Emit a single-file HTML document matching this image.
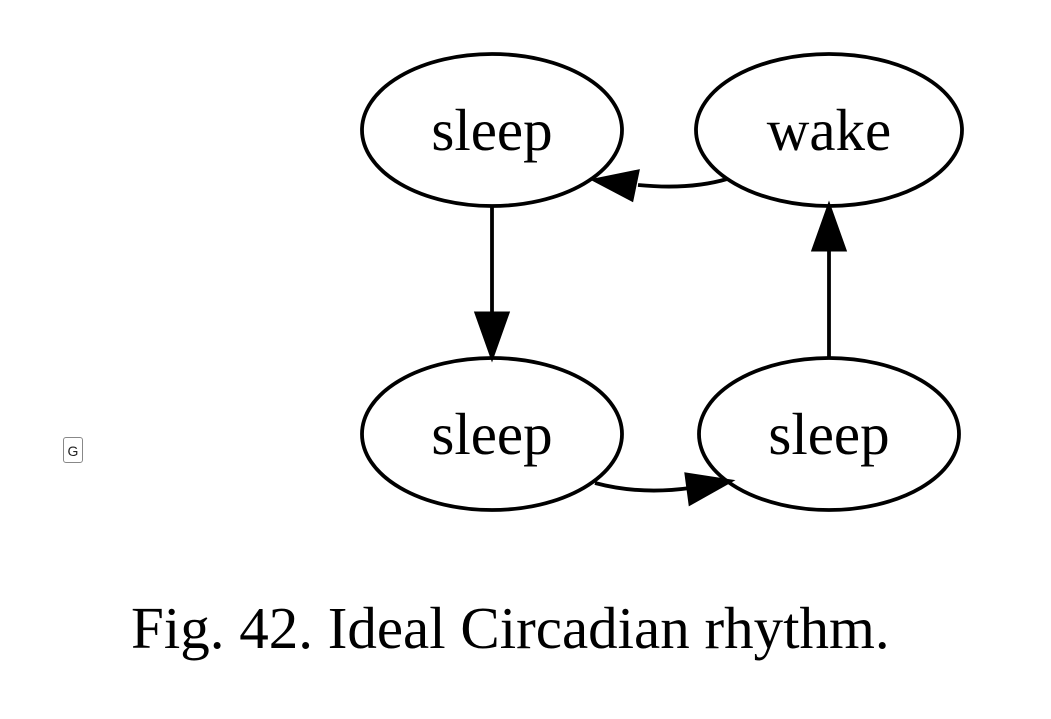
<!DOCTYPE html>
<html><head><style>
html,body{margin:0;padding:0;background:#fff;width:1051px;height:719px;overflow:hidden}
.g{position:absolute;left:63px;top:437px;width:20px;height:26px;border:1px solid #888;border-radius:3px;font:14px "Liberation Sans",sans-serif;text-align:center;line-height:27px;box-sizing:border-box;color:#222}
</style></head><body>
<svg width="1051" height="719" style="position:absolute;left:0;top:0" xmlns="http://www.w3.org/2000/svg">
<g fill="none" stroke="#000" stroke-width="3.8">
<ellipse cx="492" cy="130" rx="130" ry="76"/>
<ellipse cx="829" cy="130" rx="133" ry="76"/>
<ellipse cx="492" cy="434" rx="130" ry="76"/>
<ellipse cx="829" cy="434" rx="130" ry="76"/>
<line x1="492" y1="207" x2="492" y2="315"/>
<line x1="829" y1="357" x2="829" y2="248"/>
<path d="M727,179 Q690,190 638,185"/>
<path d="M595,483 Q640,495 690,488"/>
</g>
<g fill="#000" stroke="#000" stroke-width="3">
<polygon points="476,313 508,313 492,358"/>
<polygon points="813,250 845,250 829,205"/>
<polygon points="594,180 638,171 632,200"/>
<polygon points="731,481 686,474 690,504"/>
</g>
<g font-family="Liberation Serif,serif" font-size="59" text-anchor="middle">
<text x="492" y="150">sleep</text>
<text x="829" y="150">wake</text>
<text x="492" y="454">sleep</text>
<text x="829" y="454">sleep</text>
</g>
<text x="131" y="648" font-family="Liberation Serif,serif" font-size="59">Fig. 42. Ideal Circadian rhythm.</text>
</svg>
<div class="g">G</div>
</body></html>
